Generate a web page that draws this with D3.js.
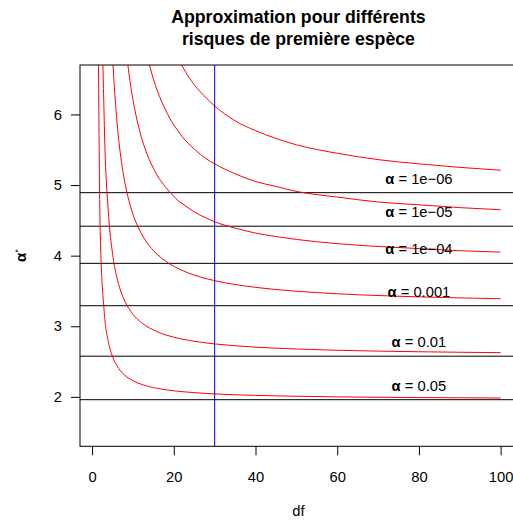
<!DOCTYPE html>
<html>
<head>
<meta charset="utf-8">
<script src="https://cdn.jsdelivr.net/npm/d3@7"></script>
<style>
  body { margin: 0; background: #fff; }
  text { font-family: "Liberation Sans", Arial, sans-serif; fill: #000; }
</style>
</head>
<body>
<div id="chart"></div>
<script>
////////////////////////////////////////////////////////////////////////
// Data

// degrees of freedom where the curves are sampled
let df = [1, 2, 3, 4, 5, 6, 7, 8, 9, 10, 11, 12, 13, 14, 15, 16, 18, 20, 21, 22,
          25, 28, 30, 35, 40, 45, 50, 60, 70, 80, 90, 100];

// alpha* for each risk (red curves)
let t05 = [12.706, 4.303, 3.182, 2.776, 2.571, 2.447, 2.365, 2.306, 2.262, 2.228, 2.201, 2.179,
           2.160, 2.145, 2.131, 2.120, 2.101, 2.086, 2.080, 2.074, 2.060, 2.048, 2.042, 2.030,
           2.021, 2.014, 2.009, 2.000, 1.994, 1.990, 1.987, 1.984];
let t01 = [63.657, 9.925, 5.841, 4.604, 4.032, 3.707, 3.499, 3.355, 3.250, 3.169, 3.106, 3.055,
           3.012, 2.977, 2.947, 2.921, 2.878, 2.845, 2.831, 2.819, 2.787, 2.763, 2.750, 2.724,
           2.704, 2.690, 2.678, 2.660, 2.648, 2.639, 2.632, 2.626];
let t001 = [636.62, 31.599, 12.924, 8.610, 6.869, 5.959, 5.408, 5.041, 4.781, 4.587, 4.437, 4.318,
            4.221, 4.140, 4.073, 4.015, 3.922, 3.850, 3.819, 3.792, 3.725, 3.674, 3.646, 3.591,
            3.551, 3.520, 3.496, 3.460, 3.435, 3.416, 3.402, 3.390];
let t1e4 = [6366.2, 99.99, 28.00, 15.54, 11.18, 9.08, 7.89, 7.12, 6.59, 6.21, 5.92, 5.69,
            5.51, 5.36, 5.24, 5.13, 4.97, 4.84, 4.78, 4.74, 4.62, 4.53, 4.48, 4.39,
            4.32, 4.27, 4.23, 4.17, 4.13, 4.10, 4.07, 4.05];
let t1e5 = [63662, 316.2, 60.4, 25.0, 16.9, 13.0, 10.9, 9.6, 8.85, 8.15, 7.65, 7.27,
            6.96, 6.71, 6.50, 6.33, 6.06, 5.85, 5.77, 5.69, 5.51, 5.37, 5.30, 5.16,
            5.05, 4.98, 4.91, 4.83, 4.76, 4.72, 4.68, 4.65];
let t1e6 = [636620, 1000, 130.2, 40, 26, 19.3, 15.6, 13.3, 11.7, 10.55, 9.72, 9.09,
            8.61, 8.22, 7.91, 7.64, 7.23, 6.93, 6.80, 6.69, 6.42, 6.23, 6.12, 5.91,
            5.77, 5.66, 5.57, 5.45, 5.36, 5.30, 5.25, 5.21];
let curves = [t05, t01, t001, t1e4, t1e5, t1e6];

// normal quantiles (black horizontal lines) and their labels
let zLimits = [1.960, 2.576, 3.291, 3.891, 4.417, 4.892];
let riskLabels = ["0.05", "0.01", "0.001", "1e\u221204", "1e\u221205", "1e\u221206"];

let dfRef = 30;          // blue vertical line
let labelDf = 80;        // where the labels sit
let labelOffset = 0.2;   // labels sit a bit above the lines

let xTicks = [0, 20, 40, 60, 80, 100];
let yTicks = [2, 3, 4, 5, 6];
let titleLines = ["Approximation pour différents", "risques de première espèce"];

////////////////////////////////////////////////////////////////////////
// Layout

let width = 513, height = 520;
let plotLeft = 80, plotRight = 516.8, plotTop = 65, plotBottom = 446.3;

let svg = d3.select("#chart")
  .append("svg")
  .attr("width", width)
  .attr("height", height);

let xScale = d3.scaleLinear()
  .domain([-2.96, 103.96])
  .range([plotLeft, plotRight]);

let yScale = d3.scaleLinear()
  .domain([1.3, 6.7])
  .range([plotBottom, plotTop]);

svg.append("clipPath")
  .attr("id", "plot-clip")
  .append("rect")
  .attr("x", plotLeft)
  .attr("y", plotTop)
  .attr("width", plotRight - plotLeft)
  .attr("height", plotBottom - plotTop);

let plot = svg.append("g").attr("clip-path", "url(#plot-clip)");

// horizontal reference lines
plot.append("g")
  .selectAll("line")
  .data(zLimits)
  .enter()
  .append("line")
  .attr("x1", plotLeft)
  .attr("x2", plotRight)
  .attr("y1", d => yScale(d))
  .attr("y2", d => yScale(d))
  .attr("stroke", "#000")
  .attr("stroke-width", 1);

// red curves (smooth through the sampled points)
let line = d3.line()
  .x((d, i) => xScale(df[i]))
  .y(d => yScale(d))
  .curve(d3.curveMonotoneX);

plot.append("g")
  .selectAll("path")
  .data(curves)
  .enter()
  .append("path")
  .attr("d", d => line(d))
  .attr("fill", "none")
  .attr("stroke", "#ff0000")
  .attr("stroke-width", 1);

// vertical line at df = 30
plot.append("line")
  .attr("x1", xScale(dfRef))
  .attr("x2", xScale(dfRef))
  .attr("y1", plotTop)
  .attr("y2", plotBottom)
  .attr("stroke", "#0000ff")
  .attr("stroke-width", 1);

// labels
let labels = svg.append("g")
  .selectAll("text")
  .data(zLimits)
  .enter()
  .append("text")
  .attr("x", xScale(labelDf))
  .attr("y", d => yScale(d + labelOffset))
  .attr("dy", "0.35em")
  .attr("text-anchor", "middle")
  .style("font-size", "14.75px");
labels.append("tspan").style("font-weight", "bold").text("\u03b1");
labels.append("tspan").text((d, i) => " = " + riskLabels[i]);

// box
svg.append("rect")
  .attr("x", plotLeft)
  .attr("y", plotTop)
  .attr("width", plotRight - plotLeft)
  .attr("height", plotBottom - plotTop)
  .attr("fill", "none")
  .attr("stroke", "#000")
  .attr("stroke-width", 1);

// axes
let xAxis = svg.append("g")
  .attr("transform", `translate(0, ${plotBottom})`)
  .call(d3.axisBottom(xScale).tickValues(xTicks).tickFormat(d3.format("d"))
    .tickSize(9).tickSizeOuter(0).tickPadding(16));
xAxis.select(".domain").remove();

let yAxis = svg.append("g")
  .attr("transform", `translate(${plotLeft}, 0)`)
  .call(d3.axisLeft(yScale).tickValues(yTicks).tickFormat(d3.format("d"))
    .tickSize(9).tickSizeOuter(0).tickPadding(9));
yAxis.select(".domain").remove();

svg.selectAll(".tick text").attr("fill", "#000").style("font-size", "14.75px");
svg.selectAll(".tick line").attr("stroke", "#000");
xAxis.attr("font-family", null).attr("font-size", null);
yAxis.attr("font-family", null).attr("font-size", null);

// axis titles
svg.append("text")
  .attr("x", (plotLeft + plotRight) / 2)
  .attr("y", 515.5)
  .attr("text-anchor", "middle")
  .style("font-size", "14.75px")
  .text("df");

let yTitle = svg.append("text")
  .attr("transform", `translate(25.5, ${(plotTop + plotBottom) / 2}) rotate(-90)`)
  .attr("text-anchor", "middle")
  .style("font-size", "14.75px");
yTitle.append("tspan").style("font-weight", "bold").text("\u03b1");
yTitle.append("tspan").attr("dy", "-0.55em").style("font-size", "9px").text("*");

// title
svg.append("g")
  .selectAll("text")
  .data(titleLines)
  .enter()
  .append("text")
  .attr("x", (plotLeft + plotRight) / 2)
  .attr("y", (d, i) => 22.5 + i * 22.5)
  .attr("text-anchor", "middle")
  .style("font-size", "17.7px")
  .style("font-weight", "bold")
  .text(d => d);
</script>
</body>
</html>
